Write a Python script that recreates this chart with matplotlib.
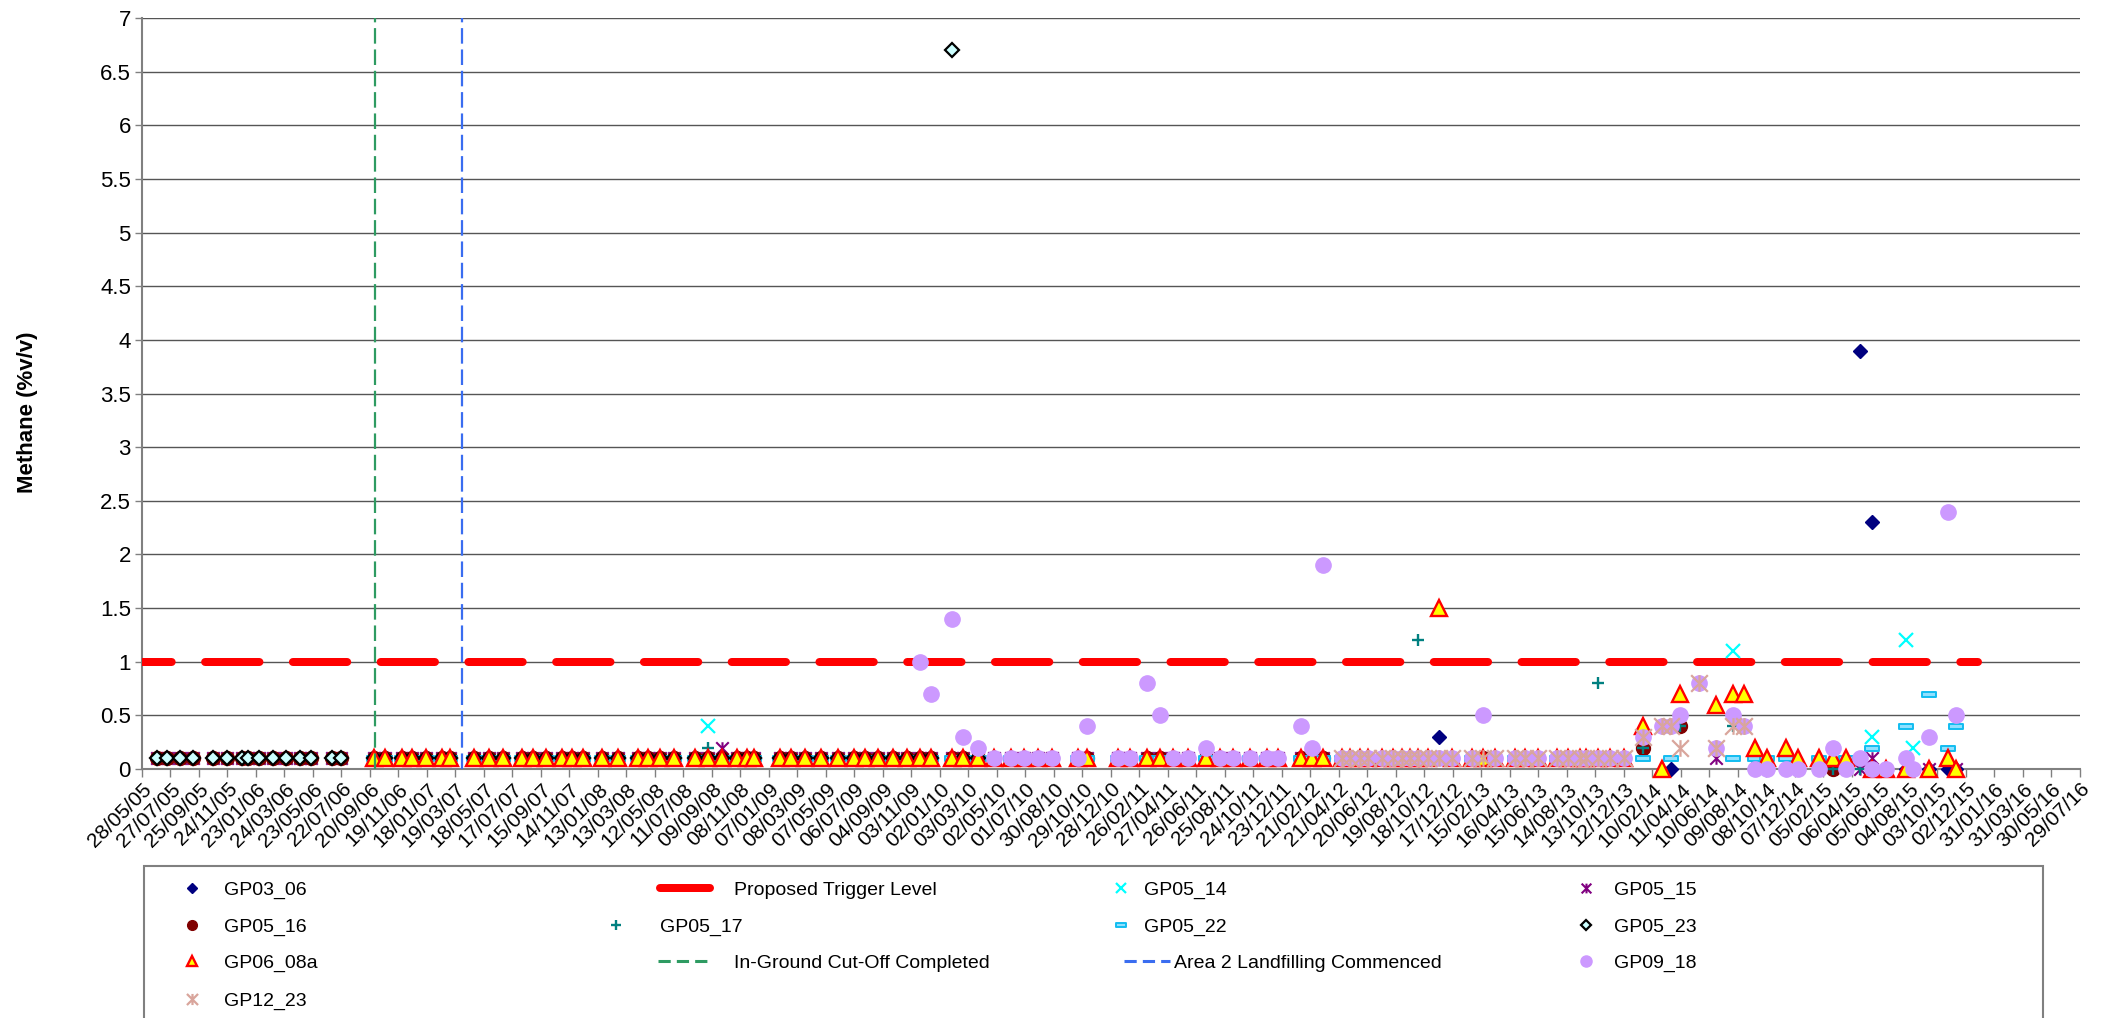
import numpy as np
import pandas as pd
import matplotlib
matplotlib.use("Agg")
import matplotlib.pyplot as plt
from matplotlib.dates import DateFormatter
from matplotlib.ticker import FormatStrFormatter
from matplotlib.lines import Line2D
from matplotlib.path import Path
from matplotlib.patches import Rectangle

plt.rcParams['font.family'] = ['Liberation Sans', 'DejaVu Sans']

# sampling rounds
sample_dates = [
    '2005-06-29', '2005-07-20', '2005-08-16', '2005-09-12', '2005-10-25', '2005-11-24', '2005-12-24',
    '2006-01-07', '2006-01-30', '2006-02-27', '2006-03-27', '2006-04-26', '2006-05-19', '2006-07-03', '2006-07-22',
    '2006-09-29', '2006-10-22', '2006-11-26', '2006-12-17', '2007-01-16', '2007-02-18', '2007-03-07',
    '2007-04-27', '2007-05-29', '2007-06-28', '2007-08-05', '2007-08-30', '2007-09-26', '2007-10-29', '2007-11-19', '2007-12-12',
    '2008-01-21', '2008-02-25', '2008-04-07', '2008-04-28', '2008-05-23', '2008-06-20', '2008-08-04', '2008-09-01', '2008-10-01', '2008-10-31', '2008-11-21', '2008-12-06',
    '2009-01-30', '2009-02-22', '2009-03-24', '2009-04-26', '2009-06-01', '2009-07-04', '2009-07-28', '2009-08-25', '2009-09-26', '2009-10-24', '2009-11-21', '2009-12-15',
    '2010-01-27', '2010-02-20', '2010-03-24',
    '2010-04-26', '2010-05-31', '2010-06-28', '2010-07-28', '2010-08-25', '2010-10-20', '2010-11-07',
    '2011-01-12', '2011-02-06', '2011-03-13', '2011-04-10', '2011-05-08', '2011-06-09', '2011-07-17', '2011-08-14', '2011-09-11', '2011-10-17', '2011-11-21', '2011-12-15',
    '2012-02-02', '2012-02-24', '2012-03-18',
    '2012-04-27', '2012-05-14', '2012-06-04', '2012-06-22', '2012-07-20', '2012-08-13', '2012-08-31', '2012-09-17', '2012-10-05', '2012-10-26', '2012-11-17', '2012-12-14',
    '2013-01-25', '2013-02-19', '2013-03-15', '2013-04-27', '2013-05-18', '2013-06-15', '2013-07-23', '2013-08-17', '2013-09-10', '2013-09-24', '2013-10-19', '2013-11-13', '2013-12-11',
    '2014-01-20', '2014-03-03', '2014-03-20', '2014-04-09', '2014-05-18', '2014-06-24', '2014-07-29', '2014-08-21', '2014-09-14', '2014-10-09', '2014-11-18', '2014-12-14',
    '2015-01-27', '2015-02-24', '2015-03-24', '2015-04-23', '2015-05-19', '2015-06-17', '2015-07-29', '2015-08-13', '2015-09-16', '2015-10-26', '2015-11-11',
]

gp03_06 = [
    0.1, 0.1, 0.1, 0.1, 0.1, 0.1, 0.1, 0.1, 0.1, 0.1, 0.1, 0.1, 0.1, 0.1, 0.1,
    0.1, 0.1, 0.1, 0.1, 0.1, 0.1, 0.1,
    0.1, 0.1, 0.1, 0.1, 0.1, 0.1, 0.1, 0.1, 0.1,
    0.1, 0.1, 0.1, 0.1, 0.1, 0.1, 0.1, 0.1, 0.1, 0.1, 0.1, 0.1,
    0.1, 0.1, 0.1, 0.1, 0.1, 0.1, 0.1, 0.1, 0.1, 0.1, 0.1, 0.1,
    0.1, 0.1, 0.1,
    0.1, 0.1, 0.1, 0.1, 0.1, 0.1, 0.1,
    0.1, 0.1, 0.1, 0.1, 0.1, 0.1, 0.1, 0.1, 0.1, 0.1, 0.1, 0.1,
    0.1, 0.1, 0.1,
    0.1, 0.1, 0.1, 0.1, 0.1, 0.1, 0.1, 0.1, 0.1, 0.1, 0.3, 0.1,
    0.1, 0.1, 0.1, 0.1, 0.1, 0.1, 0.1, 0.1, 0.1, 0.1, 0.1, 0.1, 0.1,
    None, None, 0.0, None, None, None, None, None, 0.1, 0.0, 0.0, 0.0,
    0.0, None, 0.0, 3.9, 2.3, 0.0, 0.0, None, 0.0, 0.0, 0.0,
]

gp05_14 = [
    None, None, None, None, None, None, None, None, None, None, None, None, None, None, None,
    None, None, None, None, None, None, None,
    None, None, None, None, None, None, None, None, None,
    None, None, None, None, None, None, None, 0.4, None, None, None, None,
    None, None, None, None, None, None, None, None, None, None, None, None,
    None, None, None,
    None, None, None, None, None, None, None,
    None, None, None, None, None, None, None, None, None, None, None, None,
    None, None, None,
    None, None, None, None, None, None, None, None, None, None, None, None,
    None, None, None, None, None, None, None, None, None, None, None, None, None,
    None, None, None, None, None, None, 1.1, None, None, None, None, None,
    None, None, None, None, 0.3, None, 1.2, 0.2, None, None, None,
]

gp05_15 = [
    0.1, 0.1, 0.1, 0.1, 0.1, 0.1, 0.1, 0.1, 0.1, 0.1, 0.1, 0.1, 0.1, 0.1, 0.1,
    0.1, 0.1, 0.1, 0.1, 0.1, 0.1, 0.1,
    0.1, 0.1, 0.1, 0.1, 0.1, 0.1, 0.1, 0.1, 0.1,
    0.1, 0.1, 0.1, 0.1, 0.1, 0.1, 0.1, 0.1, 0.2, 0.1, 0.1, 0.1,
    0.1, 0.1, 0.1, 0.1, 0.1, 0.1, 0.1, 0.1, 0.1, 0.1, 0.1, 0.1,
    0.1, 0.1, 0.1,
    0.1, 0.1, 0.1, 0.1, 0.1, 0.1, 0.1,
    0.1, 0.1, 0.1, 0.1, 0.1, 0.1, 0.1, 0.1, 0.1, 0.1, 0.1, 0.1,
    0.1, 0.1, 0.1,
    None, None, None, None, None, None, None, None, None, None, None, None,
    None, None, None, None, None, None, None, None, None, None, None, None, None,
    None, None, None, None, None, 0.1, None, None, None, None, None, None,
    None, None, None, 0.0, 0.1, None, None, None, 0.0, None, 0.0,
]

gp05_16 = [
    0.1, 0.1, 0.1, 0.1, 0.1, 0.1, 0.1, 0.1, 0.1, 0.1, 0.1, 0.1, 0.1, 0.1, 0.1,
    0.1, 0.1, 0.1, 0.1, 0.1, 0.1, 0.1,
    0.1, 0.1, 0.1, 0.1, 0.1, 0.1, 0.1, 0.1, 0.1,
    0.1, 0.1, 0.1, 0.1, 0.1, 0.1, 0.1, 0.1, 0.1, 0.1, 0.1, 0.1,
    0.1, 0.1, 0.1, 0.1, 0.1, 0.1, 0.1, 0.1, 0.1, 0.1, 0.1, 0.1,
    0.1, 0.1, 0.1,
    0.1, 0.1, 0.1, 0.1, 0.1, 0.1, 0.1,
    0.1, 0.1, 0.1, 0.1, 0.1, 0.1, 0.1, 0.1, 0.1, 0.1, 0.1, 0.1,
    0.1, 0.1, 0.1,
    0.1, 0.1, 0.1, 0.1, 0.1, 0.1, 0.1, 0.1, 0.1, 0.1, 0.1, 0.1,
    0.1, 0.1, 0.1, 0.1, 0.1, 0.1, 0.1, 0.1, 0.1, 0.1, 0.1, 0.1, 0.1,
    0.2, None, None, 0.4, None, None, None, None, None, None, None, None,
    None, 0.0, None, None, None, None, None, None, None, None, None,
]

gp05_17 = [
    None, None, None, None, None, None, None, None, None, None, None, None, None, None, None,
    0.1, 0.1, 0.1, 0.1, 0.1, 0.1, 0.1,
    0.1, 0.1, 0.1, 0.1, 0.1, 0.1, 0.1, 0.1, 0.1,
    0.1, 0.1, 0.1, 0.1, 0.1, 0.1, 0.1, 0.2, 0.1, 0.1, 0.1, 0.1,
    0.1, 0.1, 0.1, 0.1, 0.1, 0.1, 0.1, 0.1, 0.1, 0.1, 0.1, 0.1,
    0.1, 0.1, 0.1,
    0.1, 0.1, 0.1, 0.1, 0.1, 0.1, 0.1,
    0.1, 0.1, 0.1, 0.1, 0.1, 0.1, 0.1, 0.1, 0.1, 0.1, 0.1, 0.1,
    0.1, 0.1, 0.1,
    0.1, 0.1, 0.1, 0.1, 0.1, 0.1, 0.1, 0.1, 1.2, 0.1, 0.1, 0.1,
    0.1, 0.1, 0.1, 0.1, 0.1, 0.1, 0.1, 0.1, 0.1, 0.1, 0.8, 0.1, 0.1,
    0.2, None, None, 0.4, None, None, 0.4, None, None, None, None, None,
    None, 0.0, None, 0.0, None, None, None, None, None, None, None,
]

gp05_22 = [
    None, None, None, None, None, None, None, None, None, None, None, None, None, None, None,
    0.1, 0.1, 0.1, 0.1, 0.1, 0.1, 0.1,
    0.1, 0.1, 0.1, 0.1, 0.1, 0.1, 0.1, 0.1, 0.1,
    0.1, 0.1, 0.1, 0.1, 0.1, 0.1, 0.1, 0.1, 0.1, 0.1, 0.1, 0.1,
    0.1, 0.1, 0.1, 0.1, 0.1, 0.1, 0.1, 0.1, 0.1, 0.1, 0.1, 0.1,
    0.1, 0.1, 0.1,
    0.1, 0.1, 0.1, 0.1, 0.1, 0.1, 0.1,
    0.1, 0.1, 0.1, 0.1, 0.1, 0.1, 0.1, 0.1, 0.1, 0.1, 0.1, 0.1,
    0.1, 0.1, 0.1,
    0.1, 0.1, 0.1, 0.1, 0.1, 0.1, 0.1, 0.1, 0.1, 0.1, 0.1, 0.1,
    0.1, 0.1, 0.1, 0.1, 0.1, 0.1, 0.1, 0.1, 0.1, 0.1, 0.1, 0.1, 0.1,
    0.1, None, 0.1, None, None, None, 0.1, None, 0.1, 0.1, 0.1, None,
    0.1, None, 0.1, 0.1, 0.2, None, 0.4, None, 0.7, 0.2, 0.4,
]

gp05_23 = [
    0.1, 0.1, 0.1, 0.1, 0.1, 0.1, 0.1, 0.1, 0.1, 0.1, 0.1, 0.1, 0.1, 0.1, 0.1,
    0.1, 0.1, 0.1, 0.1, 0.1, 0.1, 0.1,
    0.1, 0.1, 0.1, 0.1, 0.1, 0.1, 0.1, 0.1, 0.1,
    0.1, 0.1, 0.1, 0.1, 0.1, 0.1, 0.1, 0.1, 0.1, 0.1, 0.1, 0.1,
    0.1, 0.1, 0.1, 0.1, 0.1, 0.1, 0.1, 0.1, 0.1, 0.1, 0.1, 0.1,
    6.7, 0.1, 0.1,
    None, None, None, None, None, None, None,
    None, None, None, None, None, None, None, None, None, None, None, None,
    None, None, None,
    None, None, None, None, None, None, None, None, None, None, None, None,
    None, None, None, None, None, None, None, None, None, None, None, None, None,
    None, None, None, None, None, None, None, None, None, None, None, None,
    None, None, None, None, None, None, None, None, None, None, None,
]

gp06_08a = [
    None, None, None, None, None, None, None, None, None, None, None, None, None, None, None,
    0.1, 0.1, 0.1, 0.1, 0.1, 0.1, 0.1,
    0.1, 0.1, 0.1, 0.1, 0.1, 0.1, 0.1, 0.1, 0.1,
    0.1, 0.1, 0.1, 0.1, 0.1, 0.1, 0.1, 0.1, 0.1, 0.1, 0.1, 0.1,
    0.1, 0.1, 0.1, 0.1, 0.1, 0.1, 0.1, 0.1, 0.1, 0.1, 0.1, 0.1,
    0.1, 0.1, 0.1,
    0.1, 0.1, 0.1, 0.1, 0.1, 0.1, 0.1,
    0.1, 0.1, 0.1, 0.1, 0.1, 0.1, 0.1, 0.1, 0.1, 0.1, 0.1, 0.1,
    0.1, 0.1, 0.1,
    0.1, 0.1, 0.1, 0.1, 0.1, 0.1, 0.1, 0.1, 0.1, 0.1, 1.5, 0.1,
    0.1, 0.1, 0.1, 0.1, 0.1, 0.1, 0.1, 0.1, 0.1, 0.1, 0.1, 0.1, 0.1,
    0.4, 0.0, None, 0.7, None, 0.6, 0.7, 0.7, 0.2, 0.1, 0.2, 0.1,
    0.1, 0.1, 0.1, None, 0.0, 0.0, 0.0, None, 0.0, 0.1, 0.0,
]

gp09_18 = [
    None, None, None, None, None, None, None, None, None, None, None, None, None, None, None,
    None, None, None, None, None, None, None,
    None, None, None, None, None, None, None, None, None,
    None, None, None, None, None, None, None, None, None, None, None, None,
    None, None, None, None, None, None, None, None, None, None, 1.0, 0.7,
    1.4, 0.3, 0.2,
    0.1, 0.1, 0.1, 0.1, 0.1, 0.1, 0.4,
    0.1, 0.1, 0.8, 0.5, 0.1, 0.1, 0.2, 0.1, 0.1, 0.1, 0.1, 0.1,
    0.4, 0.2, 1.9,
    0.1, 0.1, 0.1, 0.1, 0.1, 0.1, 0.1, 0.1, 0.1, 0.1, 0.1, 0.1,
    0.1, 0.5, 0.1, 0.1, 0.1, 0.1, 0.1, 0.1, 0.1, 0.1, 0.1, 0.1, 0.1,
    0.3, 0.4, 0.4, 0.5, 0.8, 0.2, 0.5, 0.4, 0.0, 0.0, 0.0, 0.0,
    0.0, 0.2, 0.0, 0.1, 0.0, 0.0, 0.1, 0.0, 0.3, 2.4, 0.5,
]

gp12_23 = [
    None, None, None, None, None, None, None, None, None, None, None, None, None, None, None,
    None, None, None, None, None, None, None,
    None, None, None, None, None, None, None, None, None,
    None, None, None, None, None, None, None, None, None, None, None, None,
    None, None, None, None, None, None, None, None, None, None, None, None,
    None, None, None,
    None, None, None, None, None, None, None,
    None, None, None, None, None, None, None, None, None, None, None, None,
    None, None, None,
    0.1, 0.1, 0.1, 0.1, 0.1, 0.1, 0.1, 0.1, 0.1, 0.1, 0.1, 0.1,
    0.1, 0.1, 0.1, 0.1, 0.1, 0.1, 0.1, 0.1, 0.1, 0.1, 0.1, 0.1, 0.1,
    0.3, 0.4, 0.4, 0.2, 0.8, 0.2, 0.4, 0.4, None, None, None, None,
    None, None, None, None, None, None, None, None, None, None, None,
]

trigger_dates = ['2005-05-28', '2015-12-28']
trigger_level = [1.0, 1.0]
cutoff_date = '2006-09-30'
landfill_date = '2007-04-02'

x_start, x_end = '2005-05-28', '2016-07-29'

W, H = 2108, 1018
fig = plt.figure(figsize=(W / 100, H / 100), dpi=100)
ax = fig.add_axes([142 / W, 1 - 769 / H, (2080 - 142) / W, (769 - 18) / H])

dates = pd.to_datetime(sample_dates)

star = Path([(-1, -1), (1, 1), (-1, 1), (1, -1), (0, -1), (0, 1)],
            [Path.MOVETO, Path.LINETO, Path.MOVETO, Path.LINETO, Path.MOVETO, Path.LINETO])
bar = Path([(-1, -0.36), (1, -0.36), (1, 0.36), (-1, 0.36), (-1, -0.36)],
           [Path.MOVETO, Path.LINETO, Path.LINETO, Path.LINETO, Path.CLOSEPOLY])

sty = {
    'GP03_06': dict(marker='D', ms=7, mfc='#000080', mec='#000080', mew=1),
    'GP05_14': dict(marker='x', ms=9.5, mfc='none', mec='#00ffff', mew=1.6),
    'GP05_15': dict(marker=star, ms=9, mfc='none', mec='#800080', mew=1.5),
    'GP05_16': dict(marker='o', ms=10, mfc='#800000', mec='#800000', mew=1),
    'GP05_17': dict(marker='+', ms=9, mfc='none', mec='#008080', mew=1.7),
    'GP05_22': dict(marker=bar, ms=10, mfc='#8fe0ff', mec='#12bdf0', mew=1.4),
    'GP05_23': dict(marker='D', ms=7.6, mfc='#ccffff', mec='black', mew=1.6),
    'GP06_08a': dict(marker='^', ms=11, mfc='#ffff00', mec='#ff0000', mew=1.7),
    'GP09_18': dict(marker='o', ms=11, mfc='#cc99ff', mec='#cc99ff', mew=1),
    'GP12_23': dict(marker=star, ms=12, mfc='none', mec='#d9a59c', mew=1.6),
}

def scatter(name, values, z):
    ax.plot(dates, np.array(values, dtype=float), ls='none', zorder=z, clip_on=False, **sty[name])

scatter('GP03_06', gp03_06, 3)
ax.plot(pd.to_datetime(trigger_dates), trigger_level, color='#ff0000', lw=5.76,
        ls=(3.08, (6.79, 4.18)), dash_capstyle='round', solid_capstyle='round', zorder=4)
scatter('GP05_14', gp05_14, 5)
scatter('GP05_15', gp05_15, 6)
scatter('GP05_16', gp05_16, 7)
scatter('GP05_17', gp05_17, 8)
scatter('GP05_22', gp05_22, 9)
scatter('GP05_23', gp05_23, 10)
scatter('GP06_08a', gp06_08a, 11)
ax.axvline(pd.Timestamp(cutoff_date), color='#2e9b62', lw=1.6, ls=(0, (7, 2.6)), zorder=12)
ax.axvline(pd.Timestamp(landfill_date), color='#3a6df0', lw=1.6, ls=(0, (7, 2.6)), zorder=13)
scatter('GP09_18', gp09_18, 14)
scatter('GP12_23', gp12_23, 15)

ax.set_xlim(pd.Timestamp(x_start), pd.Timestamp(x_end))
ax.set_ylim(0, 7)
ax.set_yticks(np.arange(0, 7.01, 0.5))
ax.yaxis.set_major_formatter(FormatStrFormatter('%g'))
ax.set_xticks(pd.date_range(x_start, x_end, freq='60D'))
ax.xaxis.set_major_formatter(DateFormatter('%d/%m/%y'))
plt.setp(ax.get_xticklabels(), rotation=45, ha='right', rotation_mode='anchor')
ax.tick_params(axis='x', length=5.5, width=1, color='#808080', labelsize=15, pad=2)
ax.tick_params(axis='y', length=5, width=1, color='#808080', labelsize=16, pad=3)
ax.yaxis.grid(True, color='#555555', lw=1.0)
ax.set_axisbelow(True)
for s in ['top', 'right']:
    ax.spines[s].set_visible(False)
for s in ['left', 'bottom']:
    ax.spines[s].set_color('#808080')
    ax.spines[s].set_linewidth(1.5)

ax.set_ylabel('Methane (%v/v)', fontsize=16, fontweight='bold')
ax.yaxis.set_label_coords(-0.0535, 0.475)

# legend, drawn entry by entry to follow the boxed four column layout
fs = 14
fs_px = fs * 100 / 72

def mk(name, ms):
    d = dict(sty[name])
    d['ms'] = ms
    return Line2D([], [], ls='none', **d)

h_trig = Line2D([], [], color='#ff0000', lw=5.76, solid_capstyle='round')
h_cut = Line2D([], [], color='#2e9b62', lw=2.2, ls=(0, (4, 2)))
h_land = Line2D([], [], color='#3a6df0', lw=2.2, ls=(0, (4, 2)))

rows = [890, 927, 963, 1001]
entries = [
    (mk('GP03_06', 4.8), 'GP03_06', 182, 20, 224, rows[0]),
    (h_trig, 'Proposed Trigger Level', 660, 50, 734, rows[0]),
    (mk('GP05_14', 7), 'GP05_14', 1111, 20, 1144, rows[0]),
    (mk('GP05_15', 7), 'GP05_15', 1576, 20, 1614, rows[0]),
    (mk('GP05_16', 7), 'GP05_16', 182, 20, 224, rows[1]),
    (mk('GP05_17', 7), 'GP05_17', 606, 20, 660, rows[1]),
    (mk('GP05_22', 7), 'GP05_22', 1111, 20, 1144, rows[1]),
    (mk('GP05_23', 5), 'GP05_23', 1576, 20, 1614, rows[1]),
    (mk('GP06_08a', 7.5), 'GP06_08a', 182, 20, 224, rows[2]),
    (h_cut, 'In-Ground Cut-Off Completed', 658, 54, 734, rows[2]),
    (h_land, 'Area 2 Landfilling Commenced', 1124, 46, 1174, rows[2]),
    (mk('GP09_18', 8), 'GP09_18', 1576, 20, 1614, rows[2]),
    (mk('GP12_23', 8), 'GP12_23', 182, 20, 224, rows[3]),
]
for h, lab, x0, hl, xt, yc in entries:
    fig.legend([h], [lab], loc='center left', bbox_to_anchor=(x0 / W, 1 - yc / H),
               frameon=False, fontsize=fs, handlelength=hl / fs_px,
               handletextpad=(xt - x0 - hl) / fs_px, borderpad=0, borderaxespad=0)

fig.add_artist(Rectangle((144 / W, -0.05), (2043 - 144) / W, 0.05 + 1 - 866 / H,
                         transform=fig.transFigure, fill=False, edgecolor='#808080', lw=1.5))

fig.savefig('out.png', dpi=100)
